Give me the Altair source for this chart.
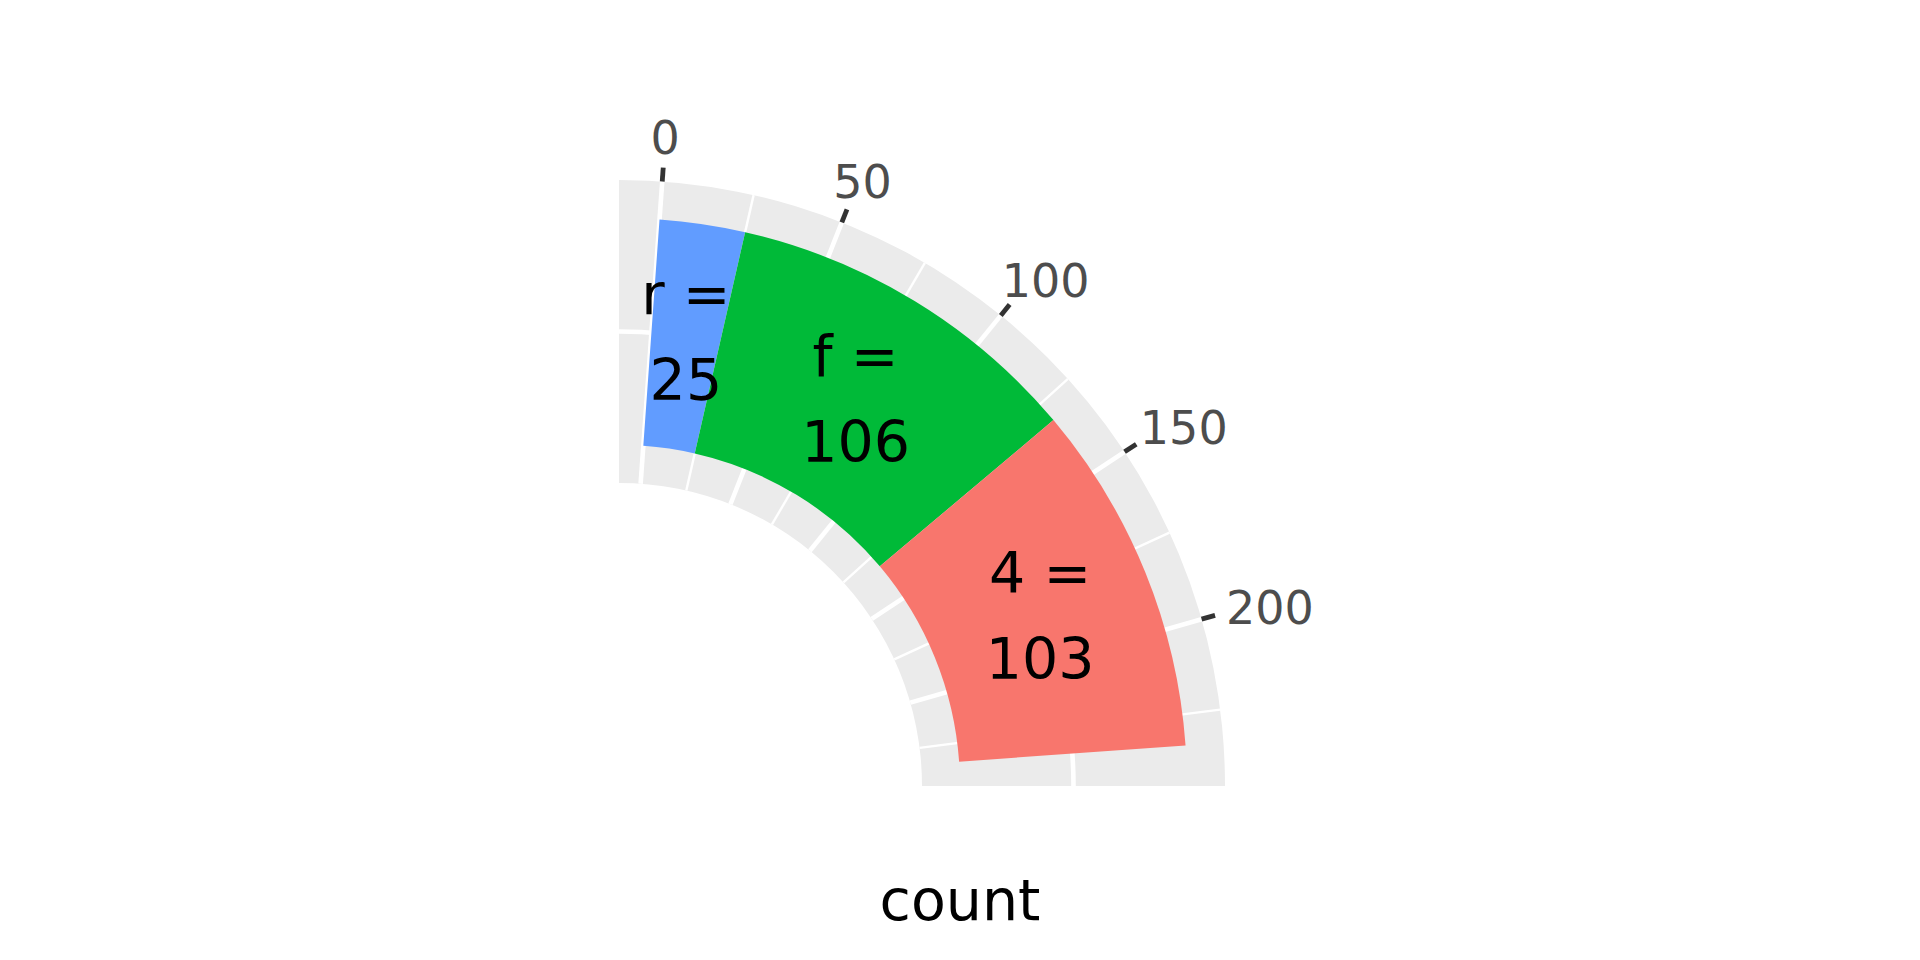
import math
import altair as alt
import pandas as pd

# ---- data ----
drv = ["4", "f", "r"]
counts = [103, 106, 25]
major_breaks = [0, 50, 100, 150, 200]
minor_breaks = [25, 75, 125, 175, 225]
break_labels = ["0", "50", "100", "150", "200"]
fill_colors = ["#F8766D", "#00BA38", "#619CFF"]

total = sum(counts)
D0, D1 = -0.05 * total, 1.05 * total

rows = []
acc = 0
for d, n in reversed(list(zip(drv, counts))):
    rows.append({"drv": d, "n": n, "start": acc, "end": acc + n,
                 "mid": acc + n / 2, "label": f"{d} =\n{n}"})
    acc += n
bars = pd.DataFrame(rows)

# ---- layout ----
CX, CY = 611, 778
R_IN, R_OUT = 303, 606
R_BAR_IN, R_BAR_OUT = 341, 568
R_MID = 454.5
TH = alt.Scale(domain=[D0, D1], range=[0, math.pi / 2])
FONT = "DejaVu Sans"
one = pd.DataFrame({"k": [0]})
ctr = dict(x=alt.value(CX), y=alt.value(CY))
ANG = f"(datum.b - ({D0})) / ({D1 - D0}) * PI / 2"


def radial_rules(values, r0, r1, color, width):
    return alt.Chart(pd.DataFrame({"b": values})).transform_calculate(
        a=ANG
    ).transform_calculate(
        x0=f"{CX} + {r0} * sin(datum.a)", y0=f"{CY} - {r0} * cos(datum.a)",
        x1=f"{CX} + {r1} * sin(datum.a)", y1=f"{CY} - {r1} * cos(datum.a)",
    ).mark_rule(color=color, strokeWidth=width, strokeCap="butt").encode(
        x=alt.X("x0:Q", scale=None, axis=None), y=alt.Y("y0:Q", scale=None, axis=None),
        x2="x1:Q", y2="y1:Q")


bg = alt.Chart(one).mark_arc(color="#EBEBEB").encode(
    theta=alt.value(0), theta2=alt.value(math.pi / 2),
    radius=alt.value(R_OUT), radius2=alt.value(R_IN), **ctr)

minor = radial_rules(minor_breaks, R_IN, R_OUT, "white", 2.4)
major = radial_rules(major_breaks, R_IN, R_OUT, "white", 4.6)

ring = alt.Chart(one).mark_arc(color="white").encode(
    theta=alt.value(0), theta2=alt.value(math.pi / 2),
    radius=alt.value(R_MID + 2.3), radius2=alt.value(R_MID - 2.3), **ctr)

bar = alt.Chart(bars).mark_arc().encode(
    theta=alt.Theta("start:Q", scale=TH, stack=False), theta2="end:Q",
    radius=alt.value(R_BAR_OUT), radius2=alt.value(R_BAR_IN),
    color=alt.Color("drv:N", scale=alt.Scale(domain=drv, range=fill_colors), legend=None),
    **ctr)

lab = alt.Chart(bars).mark_text(
    font=FONT, fontSize=57, lineBreak="\n", lineHeight=86,
    align="center", baseline="middle", dy=-39, color="black").encode(
    theta=alt.Theta("mid:Q", scale=TH, stack=False),
    radius=alt.value(R_MID), text="label:N", **ctr)

ticks = radial_rules(major_breaks, R_OUT, 620, "#333333", 4.8)

RA, CW, HH = 633, 29.3, 36.0
tlab = alt.Chart(pd.DataFrame({"b": major_breaks, "lab": break_labels})).transform_calculate(
    a=ANG
).transform_calculate(
    w=f"length(datum.lab) * {CW}"
).transform_calculate(
    ax=f"{RA} * sin(datum.a) + datum.w / 2 * sin(datum.a)",
    ay=f"-{RA} * cos(datum.a) - {HH / 2} * cos(datum.a)"
).transform_calculate(
    rc="sqrt(datum.ax * datum.ax + datum.ay * datum.ay)",
    vc=f"({D0}) + atan2(datum.ax, -datum.ay) / (PI / 2) * ({D1 - D0})"
).mark_text(font=FONT, fontSize=46, color="#4D4D4D", align="center",
            baseline="middle", dy=3).encode(
    theta=alt.Theta("vc:Q", scale=TH, stack=False),
    radius=alt.Radius("rc:Q", scale=None), text="lab:N", **ctr)

title = alt.Chart(one).mark_text(text="count", font=FONT, fontSize=57,
                                 align="center", baseline="alphabetic",
                                 color="black").encode(
    x=alt.value(952), y=alt.value(912))

chart = alt.layer(bg, minor, major, ring, bar, lab, ticks, tlab, title).properties(
    width=1904, height=944, padding=0,
    autosize=alt.AutoSizeParams(type="none")
).configure_view(strokeWidth=0)

chart.save("out.html", embed_options={"renderer": "svg", "actions": False})
